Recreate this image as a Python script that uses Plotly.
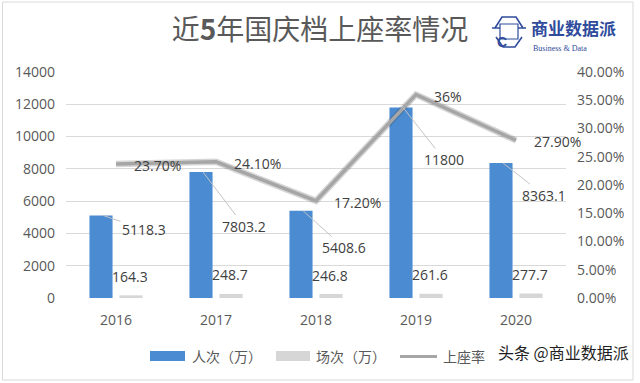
import plotly.graph_objects as go

# ---------------- data ----------------
years = ["2016", "2017", "2018", "2019", "2020"]
audience = [5118.3, 7803.2, 5408.6, 11800, 8363.1]      # 人次（万）
screenings = [164.3, 248.7, 246.8, 261.6, 277.7]        # 场次（万）
occupancy = [0.237, 0.241, 0.172, 0.36, 0.279]          # 上座率
occupancy_labels = ["23.70%", "24.10%", "17.20%", "36%", "27.90%"]
audience_labels = ["5118.3", "7803.2", "5408.6", "11800", "8363.1"]
screening_labels = ["164.3", "248.7", "246.8", "261.6", "277.7"]

# ---------------- layout geometry (pixels) ----------------
W, H = 640, 383
L, R, T, B = 66, 566, 72, 298
callout_dy = [14, 54, 37, 52, 32]   # Excel-style callout vertical offsets


def px_x(px):
    return (px - L) / (R - L)


def px_y(py):
    return (B - py) / (B - T)


NUM_FONT = "Open Sans, Liberation Sans, sans-serif"
CJK_FONT = "Noto Sans CJK SC, sans-serif"
BLUE = "#4a8bd2"
GRAY_BAR = "#d6d6d6"
LINE_GRAY = "#a6a6a6"
TEXT = "#595959"
LABEL = "#404040"
NAVY = "#2f4c9c"

fig = go.Figure()

fig.add_trace(go.Bar(x=years, y=audience, name="人次（万）",
                     marker=dict(color=BLUE, line=dict(width=0)), yaxis="y"))
fig.add_trace(go.Bar(x=years, y=screenings, name="场次（万）",
                     marker=dict(color=GRAY_BAR, line=dict(width=0)), yaxis="y"))
# line shadow + line
fig.add_trace(go.Scatter(x=years, y=occupancy, mode="lines", yaxis="y2",
                         line=dict(color="rgba(70,70,70,0.22)", width=6.5),
                         hoverinfo="skip", showlegend=False))
fig.add_trace(go.Scatter(x=years, y=occupancy, name="上座率", mode="lines", yaxis="y2",
                         line=dict(color=LINE_GRAY, width=3.5)))

annotations = []
# blue bar callouts with leader lines
for i, (v, lab, dy) in enumerate(zip(audience, audience_labels, callout_dy)):
    annotations.append(dict(
        x=i, y=v, xref="x", yref="y", xshift=-13,
        text=lab, showarrow=True, arrowhead=0, arrowwidth=1,
        arrowcolor="#c4c4c4", ax=41, ay=dy, standoff=0,
        font=dict(family=NUM_FONT, size=14, color=LABEL)))
# gray bar labels
for i, (v, lab) in enumerate(zip(screenings, screening_labels)):
    annotations.append(dict(
        x=i, y=v, xref="x", yref="y", xshift=14, yshift=19,
        text=lab, showarrow=False,
        font=dict(family=NUM_FONT, size=14, color=LABEL)))
# occupancy labels
for i, (v, lab) in enumerate(zip(occupancy, occupancy_labels)):
    annotations.append(dict(
        x=i, y=v, xref="x", yref="y2", xanchor="left", xshift=16, yshift=-1.5,
        text=lab, showarrow=False,
        font=dict(family=NUM_FONT, size=14, color=LABEL)))

# manual legend
legend_items = [
    ("rect", BLUE, 150, 185, "人次（万）", 190),
    ("rect", GRAY_BAR, 276, 310, "场次（万）", 314),
    ("line", LINE_GRAY, 400, 437, "上座率", 441),
]
shapes = []
for kind, col, x0, x1, txt, tx in legend_items:
    if kind == "rect":
        shapes.append(dict(type="rect", xref="paper", yref="paper",
                           x0=px_x(x0), x1=px_x(x1), y0=px_y(361), y1=px_y(351),
                           fillcolor=col, line=dict(width=0)))
    else:
        shapes.append(dict(type="line", xref="paper", yref="paper",
                           x0=px_x(x0), x1=px_x(x1), y0=px_y(356.5), y1=px_y(356.5),
                           line=dict(color=col, width=3)))
    annotations.append(dict(x=px_x(tx), y=px_y(356), xref="paper", yref="paper",
                            xanchor="left", yanchor="middle", showarrow=False,
                            text=txt, font=dict(family=CJK_FONT, size=14, color=TEXT)))

# chart frame
shapes.append(dict(type="rect", xref="paper", yref="paper",
                   x0=px_x(2.5), x1=px_x(633), y0=px_y(380), y1=px_y(2),
                   line=dict(color="#d9d9d9", width=1), fillcolor="rgba(0,0,0,0)",
                   layer="below"))

# logo
logo_paths = [
    "M{:.4f},{:.4f} L{:.4f},{:.4f} L{:.4f},{:.4f} L{:.4f},{:.4f}".format(
        px_x(495), px_y(28), px_x(502), px_y(17), px_x(516), px_y(17), px_x(523), px_y(28)),
    "M{:.4f},{:.4f} L{:.4f},{:.4f} L{:.4f},{:.4f} L{:.4f},{:.4f}".format(
        px_x(496), px_y(37), px_x(503), px_y(47), px_x(515), px_y(47), px_x(522), px_y(37)),
    "M{:.4f},{:.4f} L{:.4f},{:.4f} M{:.4f},{:.4f} L{:.4f},{:.4f}".format(
        px_x(492), px_y(28), px_x(500), px_y(28), px_x(518), px_y(28), px_x(526), px_y(28)),
]
for p in logo_paths:
    shapes.append(dict(type="path", xref="paper", yref="paper", path=p,
                       line=dict(color=NAVY, width=1.6)))
shapes.append(dict(type="rect", xref="paper", yref="paper",
                   x0=px_x(500), x1=px_x(518), y0=px_y(39), y1=px_y(24),
                   line=dict(color=NAVY, width=1.2)))
annotations += [
    dict(x=px_x(509), y=px_y(32), xref="paper", yref="paper", showarrow=False,
         text="<b>C</b>", font=dict(family="Liberation Sans", size=14, color=NAVY)),
    dict(x=px_x(529), y=px_y(27), xref="paper", yref="paper", xanchor="left",
         yanchor="middle", showarrow=False, text="<b>商业数据派</b>",
         font=dict(family=CJK_FONT, size=17, color=NAVY)),
    dict(x=px_x(531), y=px_y(42), xref="paper", yref="paper", xanchor="left",
         yanchor="top", showarrow=False, text="Business &amp; Data",
         font=dict(family="Liberation Serif", size=8, color=NAVY)),
    # watermark
    dict(x=px_x(496), y=px_y(366), xref="paper", yref="paper", xanchor="left",
         showarrow=False, text="头条 @商业数据派",
         font=dict(family=CJK_FONT, size=16, color="#1e1e1e")),
]

fig.update_layout(
    width=W, height=H, autosize=False,
    margin=dict(l=L, r=W - R, t=T, b=H - B, pad=0),
    paper_bgcolor="white", plot_bgcolor="white",
    showlegend=False,
    barmode="group", bargap=0.4, bargroupgap=0.23,
    title=dict(text="近<b>5</b>年国庆档上座率情况", x=0.5, xref="container", xanchor="center",
               y=1 - 30 / H, yref="container", yanchor="middle",
               font=dict(family=CJK_FONT, size=28, color=TEXT)),
    xaxis=dict(type="category", range=[-0.5, 4.5], autorange=False,
               showgrid=False, zeroline=False, showline=False,
               ticks="", ticklabelstandoff=12,
               tickfont=dict(family=NUM_FONT, size=14, color=TEXT)),
    yaxis=dict(range=[0, 14000], autorange=False, dtick=2000, showgrid=True,
               gridcolor="#d9d9d9", gridwidth=1, zeroline=False, showline=False,
               ticks="", ticklabelstandoff=10, tickformat="d",
               tickfont=dict(family=NUM_FONT, size=14, color=TEXT)),
    yaxis2=dict(range=[0, 0.4], autorange=False, dtick=0.05, overlaying="y", side="right",
                showgrid=False, zeroline=False, showline=False, ticks="",
                ticklabelstandoff=10, tickformat=".2%",
                tickfont=dict(family=NUM_FONT, size=14, color=TEXT)),
    annotations=annotations,
    shapes=shapes,
)

fig.write_html("out.html", config={"displayModeBar": False},
               post_script="document.body.style.margin='0';document.body.style.overflow='hidden';")
